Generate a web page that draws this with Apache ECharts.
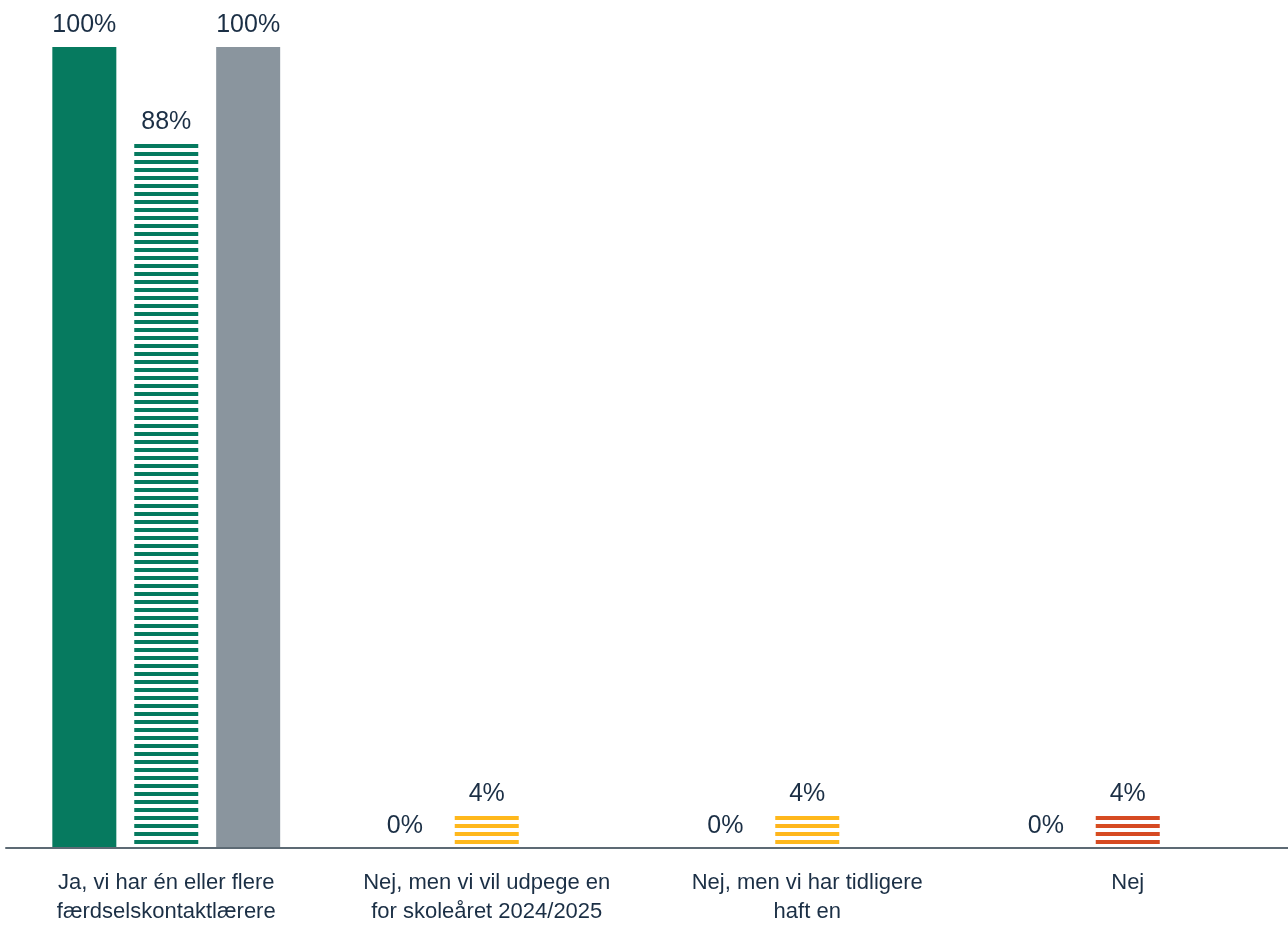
<!DOCTYPE html>
<html>
<head>
<meta charset="utf-8">
<script src="https://cdn.jsdelivr.net/npm/echarts@6/dist/echarts.min.js"></script>
<style>
html,body{margin:0;padding:0;background:#fff;}
#chart{width:1288px;height:926px;}
</style>
</head>
<body>
<div id="chart"></div>
<script>
var categories = [
  'Ja, vi har én eller flere\nfærdselskontaktlærere',
  'Nej, men vi vil udpege en\nfor skoleåret 2024/2025',
  'Nej, men vi har tidligere\nhaft en',
  'Nej'
];
var seriesA = [100, 0, 0, 0];
var seriesB = [88, 4, 4, 4];
var seriesC = [100, null, null, null];

var GREEN = '#067a5f';
var GREY = '#8a959e';
var YELLOW = '#ffb81c';
var RED = '#d64a22';

function stripe(color) {
  var c = document.createElement('canvas');
  c.width = 8; c.height = 8;
  var ctx = c.getContext('2d');
  ctx.fillStyle = '#ffffff';
  ctx.fillRect(0, 0, 8, 8);
  ctx.fillStyle = color;
  ctx.fillRect(0, 0, 8, 4);
  return { image: c, repeat: 'repeat' };
}
var colorsB = [stripe(GREEN), stripe(YELLOW), stripe(YELLOW), stripe(RED)];

var labelStyle = {
  show: true,
  position: 'top',
  distance: 9,
  formatter: '{c}%',
  color: '#1b2f45',
  fontSize: 25,
  fontFamily: 'Liberation Sans, Arial, sans-serif'
};

var chart = echarts.init(document.getElementById('chart'), null, { renderer: 'canvas' });
chart.setOption({
  animation: false,
  backgroundColor: '#ffffff',
  grid: { left: 6, right: 0, top: 47, bottom: 76, containLabel: false },
  xAxis: {
    type: 'category',
    data: categories,
    z: 5,
    axisLine: { show: true, lineStyle: { color: '#5d6a74', width: 2 } },
    axisTick: { show: false },
    axisLabel: {
      interval: 0,
      margin: 20,
      color: '#1b2f45',
      fontSize: 22,
      lineHeight: 29,
      fontFamily: 'Liberation Sans, Arial, sans-serif'
    }
  },
  yAxis: {
    type: 'value',
    min: 0,
    max: 100,
    show: false,
    splitLine: { show: false }
  },
  series: [
    {
      type: 'bar',
      barWidth: 64,
      barGap: '28%',
      data: seriesA.map(function (v) { return { value: v, itemStyle: { color: GREEN } }; }),
      label: labelStyle
    },
    {
      type: 'bar',
      barWidth: 64,
      barGap: '28%',
      data: seriesB.map(function (v, i) { return { value: v, itemStyle: { color: colorsB[i] } }; }),
      label: labelStyle
    },
    {
      type: 'bar',
      barWidth: 64,
      barGap: '28%',
      data: seriesC.map(function (v) { return { value: v, itemStyle: { color: GREY } }; }),
      label: labelStyle
    }
  ]
});
</script>
</body>
</html>
